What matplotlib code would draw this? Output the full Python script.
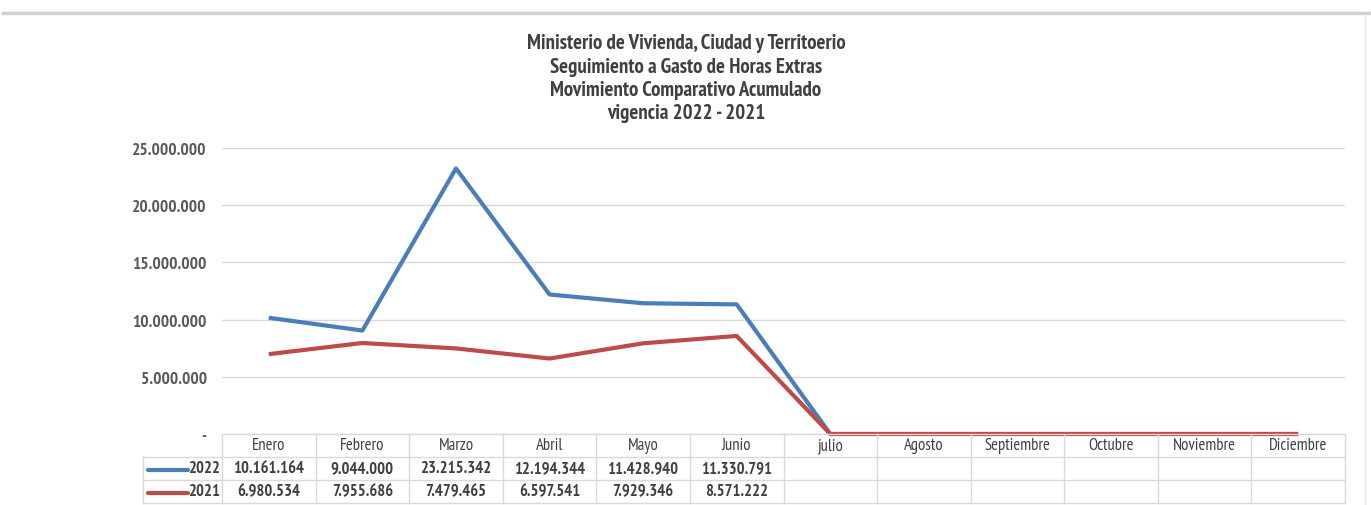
import matplotlib
matplotlib.use("Agg")
import matplotlib.pyplot as plt
from matplotlib import font_manager as fm
from matplotlib.transforms import blended_transform_factory
from matplotlib.lines import Line2D

months = ["Enero", "Febrero", "Marzo", "Abril", "Mayo", "Junio", "julio",
          "Agosto", "Septiembre", "Octubre", "Noviembre", "Diciembre"]
v2022 = [10161164, 9044000, 23215342, 12194344, 11428940, 11330791, 0, 0, 0, 0, 0, 0]
v2021 = [6980534, 7955686, 7479465, 6597541, 7929346, 8571222, 0, 0, 0, 0, 0, 0]
yticks = [0, 5000000, 10000000, 15000000, 20000000, 25000000]
title = ["Ministerio de Vivienda, Ciudad y Territoerio",
         "Seguimiento a Gasto de Horas Extras",
         "Movimiento Comparativo Acumulado",
         "vigencia 2022 - 2021"]

bold_names = {f.name for f in fm.fontManager.ttflist
              if isinstance(f.weight, int) and f.weight >= 600 or f.weight == "bold"}
preferred = ["Liberation Sans Narrow", "Arial Narrow", "Archivo Narrow", "PT Sans Narrow",
             "Roboto Condensed", "Open Sans Condensed", "Pragati Narrow",
             "Fira Sans Extra Condensed", "Fira Sans Condensed"]
fam = next((p for p in preferred if p in bold_names), "DejaVu Sans")
plt.rcParams['font.family'] = [fam, 'DejaVu Sans']

W, H = 1371, 506
fig = plt.figure(figsize=(W / 100, H / 100), dpi=100)
fig.patch.set_facecolor("white")

def fy(py):
    return 1 - py / H

def fx(px):
    return px / W

ax = fig.add_axes([fx(222), fy(435), fx(1345) - fx(222), fy(149) - fy(435)])
ax.set_xlim(-0.5, len(months) - 0.5)
ax.set_ylim(0, 25000000)
for s in ax.spines.values():
    s.set_visible(False)
ax.set_xticks([])
ax.set_yticks(yticks)
ax.set_yticklabels(["-" if t == 0 else f"{t:,}".replace(",", ".") for t in yticks],
                   fontsize=12.5, fontweight="bold", color="#595959")
ax.tick_params(axis="y", length=0, pad=11)
ax.grid(axis="y", color="#d9d9d9", linewidth=1)
ax.set_axisbelow(True)

blue = "#4a7ebb"
red = "#be4b48"
x = list(range(len(months)))
ax.plot(x, v2022, color=blue, linewidth=3, solid_capstyle="butt", clip_on=False, zorder=3)
ax.plot(x, v2021, color=red, linewidth=3, solid_capstyle="butt", clip_on=False, zorder=4)

for i, line in enumerate(title):
    fig.text(fx(686), fy(44 + i * 23.3), line, ha="center", va="center",
             fontsize=15, fontweight="bold", color="#404040")

tr = blended_transform_factory(ax.transData, fig.transFigure)
gc = "#d9d9d9"
rows_y = [435, 458, 481, 504]
left_x = -0.5 - (222 - 143) / ((1345 - 222) / 12)
n = len(months)
fig.add_artist(Line2D([-0.5, n - 0.5], [fy(435), fy(435)], transform=tr, color=gc, lw=1))
for yy in rows_y[1:]:
    fig.add_artist(Line2D([left_x, n - 0.5], [fy(yy), fy(yy)], transform=tr, color=gc, lw=1))
for k in range(n + 1):
    fig.add_artist(Line2D([k - 0.5, k - 0.5], [fy(435), fy(504)], transform=tr, color=gc, lw=1))
fig.add_artist(Line2D([left_x, left_x], [fy(458), fy(504)], transform=tr, color=gc, lw=1))

def fmt(v):
    return "" if v == 0 else f"{v:,}".replace(",", ".")

for k, m in enumerate(months):
    fig.text(k, fy(446.5), m, transform=tr, ha="center", va="center",
             fontsize=12, color="#404040")
    fig.text(k, fy(469.5), fmt(v2022[k]), transform=tr, ha="center", va="center",
             fontsize=12, fontweight="bold", color="#404040")
    fig.text(k, fy(492.5), fmt(v2021[k]), transform=tr, ha="center", va="center",
             fontsize=12, fontweight="bold", color="#404040")

for yy, col, lab in [(469.5, blue, "2022"), (492.5, red, "2021")]:
    fig.add_artist(Line2D([fx(148), fx(188)], [fy(yy + 1), fy(yy + 1)], color=col,
                          lw=3, solid_capstyle="round"))
    fig.text(fx(220), fy(yy), lab, ha="right", va="center", fontsize=12,
             fontweight="bold", color="#404040")

fig.add_artist(Line2D([fx(3), fx(1371)], [fy(13.5), fy(13.5)], color="#d0d0d0", lw=2.5))
fig.add_artist(Line2D([fx(1365), fx(1365)], [fy(15), fy(506)], color="#e6e6e6", lw=1))

fig.savefig("out.png", dpi=100, facecolor="white")
